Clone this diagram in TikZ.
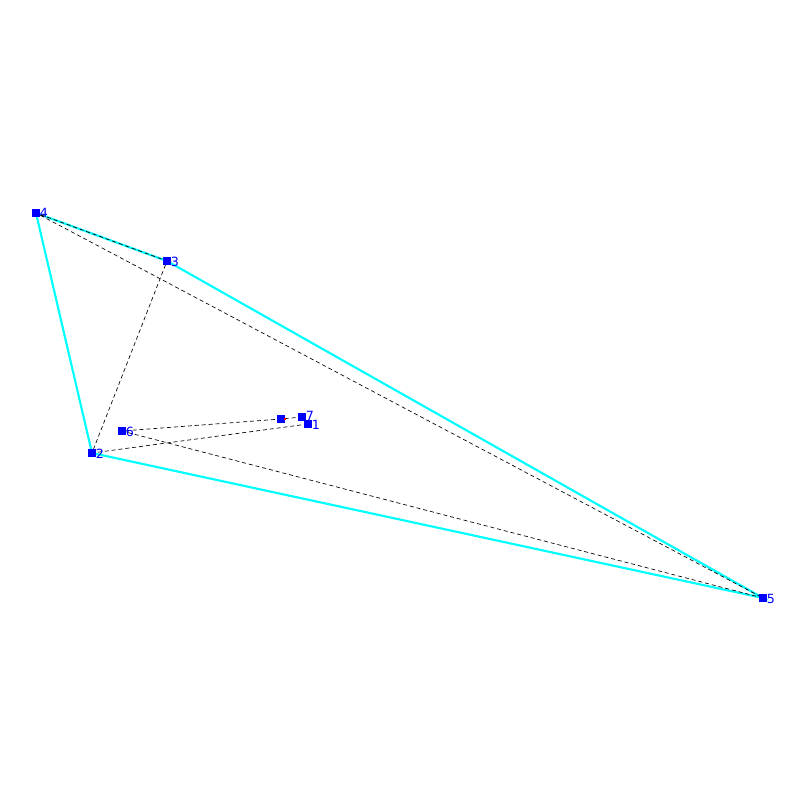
\documentclass[tikz,border=0pt]{standalone}
\usepackage{fontspec}
\setmainfont{DejaVu Sans}
\usetikzlibrary{backgrounds}
\definecolor{hullcyan}{RGB}{0,255,255}
\definecolor{ptblue}{RGB}{0,0,255}
\begin{document}
\begin{tikzpicture}[x=0.75pt,y=-0.75pt,
  pt/.style={fill=ptblue,minimum size=5.4pt,inner sep=0pt,outer sep=0pt,draw=none},
  lbl/.style={anchor=west,text=ptblue,font=\fontsize{9.5}{10}\selectfont,inner sep=0pt},
  hull/.style={draw=hullcyan,line width=1.6pt},
  tour/.style={draw=black,line width=0.5pt,dash pattern=on 3pt off 2.2pt}]
\useasboundingbox (0,0) rectangle (800,800);
\node[pt] (p1) at (308,424) {};
\node[pt] (p2) at (92,453) {};
\node[pt] (p3) at (167,261) {};
\node[pt] (p4) at (36,213) {};
\node[pt] (p5) at (763,598) {};
\node[pt] (p6) at (122,431) {};
\node[pt] (p7) at (302,417) {};
\node[pt] (px) at (281,419) {};
\node[fill=red,minimum width=1.8pt,minimum height=1.5pt,inner sep=0pt] (rx) at (285,418.5) {};
\node[lbl] (l1) at (311.5,424.5) {1};
\node[lbl] (l2) at (95.5,453.5) {2};
\node[lbl] (l3) at (170.5,261.5) {3};
\node[lbl] (l4) at (39.5,212.5) {4};
\node[lbl] (l5) at (766.5,598.5) {5};
\node[lbl] (l6) at (125.5,431.5) {6};
\node[lbl] (l7) at (305.5,416) {7};
\begin{scope}[on background layer]
\draw[hull] (p4.center) -- (p3.center) -- (p5.center) -- (p2.center) -- cycle;
\draw[tour] (p1.center) -- (p2.center) -- (p3.center) -- (p4.center) -- (p5.center) -- (p6.center) -- (px.center) -- (p7.center);
\end{scope}
\end{tikzpicture}
\end{document}
